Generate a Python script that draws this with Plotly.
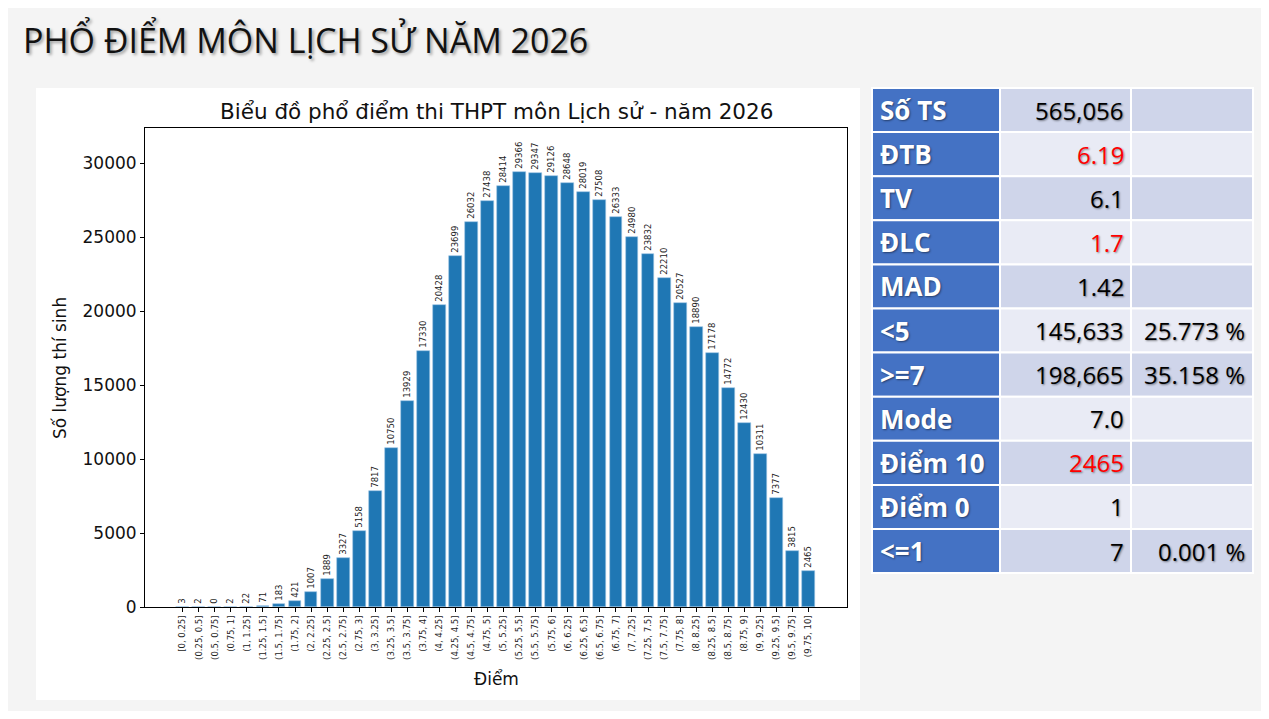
import plotly.graph_objects as go

# the page puts the figure 8px in from the corner, so size and offsets allow for that
W, H = 1253, 703
OFF = 8

# Score bins and candidate counts
bins = ["[0, 0.25]", "(0.25, 0.5]", "(0.5, 0.75]", "(0.75, 1]", "(1, 1.25]",
        "(1.25, 1.5]", "(1.5, 1.75]", "(1.75, 2]", "(2, 2.25]", "(2.25, 2.5]",
        "(2.5, 2.75]", "(2.75, 3]", "(3, 3.25]", "(3.25, 3.5]", "(3.5, 3.75]",
        "(3.75, 4]", "(4, 4.25]", "(4.25, 4.5]", "(4.5, 4.75]", "(4.75, 5]",
        "(5, 5.25]", "(5.25, 5.5]", "(5.5, 5.75]", "(5.75, 6]", "(6, 6.25]",
        "(6.25, 6.5]", "(6.5, 6.75]", "(6.75, 7]", "(7, 7.25]", "(7.25, 7.5]",
        "(7.5, 7.75]", "(7.75, 8]", "(8, 8.25]", "(8.25, 8.5]", "(8.5, 8.75]",
        "(8.75, 9]", "(9, 9.25]", "(9.25, 9.5]", "(9.5, 9.75]", "(9.75, 10]"]
counts = [3, 2, 0, 2, 22, 71, 183, 421, 1007, 1889,
          3327, 5158, 7817, 10750, 13929, 17330, 20428, 23699, 26032, 27438,
          28414, 29366, 29347, 29126, 28648, 28019, 27508, 26333, 24980, 23832,
          22210, 20527, 18890, 17178, 14772, 12430, 10311, 7377, 3815, 2465]

# Summary table
stat_names = ["Số TS", "ĐTB", "TV", "ĐLC", "MAD", "<5", ">=7", "Mode",
              "Điểm 10", "Điểm 0", "<=1"]
stat_values = ["565,056", "6.19", "6.1", "1.7", "1.42", "145,633", "198,665",
               "7.0", "2465", "1", "7"]
stat_pcts = ["", "", "", "", "", "25.773 %", "35.158 %", "", "", "", "0.001 %"]
highlight = ["ĐTB", "ĐLC", "Điểm 10"]


def px_x(v):
    return (v - OFF) / W


def px_y(v):
    return 1 - (v - OFF) / H


fig = go.Figure()

fig.add_trace(go.Bar(
    x=list(range(len(bins))), y=counts,
    width=0.8,
    marker=dict(color="#1f77b4", line=dict(color="#9cc3e4", width=0.6)),
    text=[str(c) for c in counts],
    textposition="outside", textangle=-90,
    textfont=dict(family="DejaVu Sans", size=8.5, color="#222"),
    cliponaxis=False, constraintext="none",
    showlegend=False,
))

# white panel behind the chart
fig.add_shape(type="rect", xref="paper", yref="paper",
              x0=px_x(36), x1=px_x(860), y0=px_y(700), y1=px_y(88),
              fillcolor="#ffffff", line=dict(width=0), layer="below")

# stats table drawn as a grid of cells
col_edges = [872, 1000, 1131, 1253]
top, row_h = 88, 44.1
shadow = "1px 1px 2px rgba(0,0,0,0.45)"
for i, name in enumerate(stat_names):
    y0 = top + i * row_h
    y1 = y0 + row_h
    fill = "#cfd5ea" if i % 2 == 0 else "#e9ebf5"
    fills = ["#4472c4", fill, fill]
    for j in range(3):
        fig.add_shape(type="rect", xref="paper", yref="paper",
                      x0=px_x(col_edges[j]), x1=px_x(col_edges[j + 1]),
                      y0=px_y(y1), y1=px_y(y0),
                      fillcolor=fills[j], line=dict(color="#ffffff", width=2))
    ym = px_y((y0 + y1) / 2)
    fig.add_annotation(text="<b>%s</b>" % name, xref="paper", yref="paper",
                       x=px_x(878), y=ym, xanchor="left", yanchor="middle",
                       showarrow=False,
                       font=dict(family="Open Sans", size=26, color="#ffffff",
                                 shadow=shadow))
    fig.add_annotation(text=stat_values[i], xref="paper", yref="paper",
                       x=px_x(1126), y=ym, xanchor="right", yanchor="middle",
                       showarrow=False,
                       font=dict(family="Open Sans", size=24,
                                 color="#ff0000" if name in highlight else "#000000",
                                 shadow=shadow))
    if stat_pcts[i]:
        fig.add_annotation(text=stat_pcts[i], xref="paper", yref="paper",
                           x=px_x(1247), y=ym, xanchor="right", yanchor="middle",
                           showarrow=False,
                           font=dict(family="Open Sans", size=24, color="#000000",
                                     shadow=shadow))

fig.add_annotation(text="PHỔ ĐIỂM MÔN LỊCH SỬ NĂM 2026", xref="paper", yref="paper",
                   x=px_x(21), y=px_y(40), xanchor="left", yanchor="middle",
                   showarrow=False,
                   font=dict(family="Open Sans", size=34, color="#111",
                             shadow="2px 2px 3px rgba(0,0,0,0.35)"))

fig.add_annotation(text="Biểu đồ phổ điểm thi THPT môn Lịch sử - năm 2026",
                   xref="paper", yref="paper",
                   x=px_x(496), y=px_y(111), xanchor="center", yanchor="middle",
                   showarrow=False,
                   font=dict(family="DejaVu Sans", size=21.5, color="#111"))

fig.add_annotation(text="Điểm", xref="paper", yref="paper",
                   x=px_x(496), y=px_y(679), xanchor="center", yanchor="middle",
                   showarrow=False,
                   font=dict(family="DejaVu Sans", size=17, color="#111"))

fig.add_annotation(text="Số lượng thí sinh", xref="paper", yref="paper",
                   x=px_x(60), y=px_y(368), xanchor="center", yanchor="middle",
                   textangle=-90, showarrow=False,
                   font=dict(family="DejaVu Sans", size=17, color="#111"))

fig.update_layout(
    width=W, height=H,
    margin=dict(l=0, r=0, t=0, b=0, pad=0, autoexpand=False),
    paper_bgcolor="#f4f4f4",
    plot_bgcolor="#ffffff",
    bargap=0,
    xaxis=dict(
        domain=[px_x(145), px_x(847)],
        range=[-2.35, 41.4],
        automargin=False,
        tickmode="array", tickvals=list(range(len(bins))), ticktext=bins,
        tickangle=-90,
        tickfont=dict(family="DejaVu Sans", size=8.5, color="#222"),
        ticks="outside", ticklen=4, tickcolor="#000",
        showline=True, linecolor="#000", linewidth=1, mirror=True,
        showgrid=False, zeroline=False,
    ),
    yaxis=dict(
        domain=[px_y(607), px_y(128)],
        range=[0, 32365],
        automargin=False,
        tickmode="array", tickvals=[0, 5000, 10000, 15000, 20000, 25000, 30000],
        tickformat="d",
        tickfont=dict(family="DejaVu Sans", size=17, color="#111"),
        ticks="outside", ticklen=4, tickcolor="#000",
        showline=True, linecolor="#000", linewidth=1, mirror=True,
        showgrid=False, zeroline=False,
    ),
)

fig.write_html("out.html")
